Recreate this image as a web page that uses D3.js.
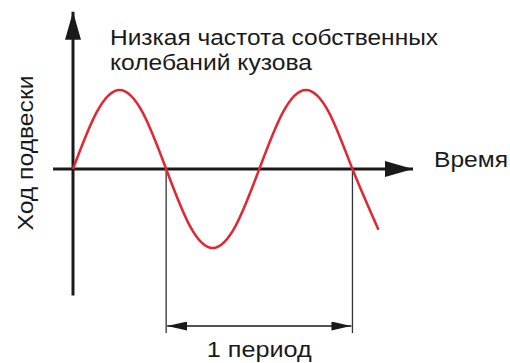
<!DOCTYPE html>
<html>
<head>
<meta charset="utf-8">
<script src="https://cdn.jsdelivr.net/npm/d3@7"></script>
<style>
  body { margin: 0; background: #fff; }
  text { font-family: "Liberation Sans", Arial, sans-serif; fill: #1a1a1a; }
</style>
</head>
<body>
<div class="chart"></div>
<script>
let width = 510,
    height = 363;

// curve: time in periods, suspension travel (amplitude = 1)
let time   = [0, 0.125, 0.25, 0.375, 0.5, 0.625, 0.75, 0.875, 1, 1.125, 1.25, 1.375, 1.5, 1.64];
let travel = [0, 0.71, 1, 0.71, 0, -0.71, -1, -0.71, 0, 0.71, 1, 0.71, 0, -0.77];

let periodStart = 0.5,
    periodEnd   = 1.5;

let titleLines = ["Низкая частота собственных", "колебаний кузова"];
let titleWidths = [328, 202];
let xLabel = "Время";
let yLabel = "Ход подвески";
let periodLabel = "1 период";

let x = d3.scaleLinear().domain([0, 1.825]).range([73, 413]);
let y = d3.scaleLinear().domain([-1, 1]).range([248, 90]);

let plot = d3.select('.chart').append('svg')
    .attr("width", width)
    .attr("height", height);

let defs = plot.append("defs");

defs.append("marker")
    .attr("id", "bigArrow")
    .attr("viewBox", "0 0 28 16")
    .attr("refX", 28).attr("refY", 8)
    .attr("markerWidth", 28).attr("markerHeight", 16)
    .attr("markerUnits", "userSpaceOnUse")
    .attr("orient", "auto")
  .append("path")
    .attr("d", "M0,0L28,8L0,16Z")
    .attr("fill", "#1a1a1a");

defs.append("marker")
    .attr("id", "smallArrow")
    .attr("viewBox", "0 0 20 9")
    .attr("refX", 20).attr("refY", 4.5)
    .attr("markerWidth", 20).attr("markerHeight", 9)
    .attr("markerUnits", "userSpaceOnUse")
    .attr("orient", "auto-start-reverse")
  .append("path")
    .attr("d", "M0,0L20,4.5L0,9Z")
    .attr("fill", "#1a1a1a");

// axes
plot.append("line")
    .attr("x1", x(-0.107)).attr("y1", y(0))
    .attr("x2", x(1.825)).attr("y2", y(0))
    .attr("stroke", "#1a1a1a")
    .attr("stroke-width", 3)
    .attr("marker-end", "url(#bigArrow)");

plot.append("line")
    .attr("x1", x(0)).attr("y1", y(-1.6))
    .attr("x2", x(0)).attr("y2", y(1.99))
    .attr("stroke", "#1a1a1a")
    .attr("stroke-width", 3)
    .attr("marker-end", "url(#bigArrow)");

// period guides
plot.selectAll(".guide")
    .data([periodStart, periodEnd])
    .join("line")
    .attr("class", "guide")
    .attr("x1", d => x(d)).attr("y1", y(0))
    .attr("x2", d => x(d)).attr("y2", 333)
    .attr("stroke", "#333")
    .attr("stroke-width", 1.3);

plot.append("line")
    .attr("x1", x(periodStart) + 1).attr("y1", 326)
    .attr("x2", x(periodEnd) - 1).attr("y2", 326)
    .attr("stroke", "#1a1a1a")
    .attr("stroke-width", 1.3)
    .attr("marker-start", "url(#smallArrow)")
    .attr("marker-end", "url(#smallArrow)");

// wave
let line = d3.line()
    .x((d, i) => x(time[i]))
    .y(d => y(d))
    .curve(d3.curveNatural);

plot.append("path")
    .datum(travel)
    .attr("d", line)
    .attr("fill", "none")
    .attr("stroke", "#e3262f")
    .attr("stroke-width", 2.5);

// texts
plot.selectAll(".title")
    .data(titleLines)
    .join("text")
    .attr("class", "title")
    .attr("x", 110)
    .attr("y", (d, i) => 45 + i * 25)
    .attr("font-size", 21.5)
    .attr("textLength", (d, i) => titleWidths[i])
    .attr("lengthAdjust", "spacingAndGlyphs")
    .text(d => d);

plot.append("text")
    .attr("x", 434).attr("y", 167)
    .attr("font-size", 21.5)
    .attr("textLength", 74)
    .attr("lengthAdjust", "spacingAndGlyphs")
    .text(xLabel);

plot.append("text")
    .attr("transform", "translate(33,153) rotate(-90)")
    .attr("text-anchor", "middle")
    .attr("font-size", 21.5)
    .attr("textLength", 155)
    .attr("lengthAdjust", "spacingAndGlyphs")
    .text(yLabel);

plot.append("text")
    .attr("x", x((periodStart + periodEnd) / 2)).attr("y", 357)
    .attr("text-anchor", "middle")
    .attr("font-size", 21.5)
    .attr("textLength", 105)
    .attr("lengthAdjust", "spacingAndGlyphs")
    .text(periodLabel);
</script>
</body>
</html>
